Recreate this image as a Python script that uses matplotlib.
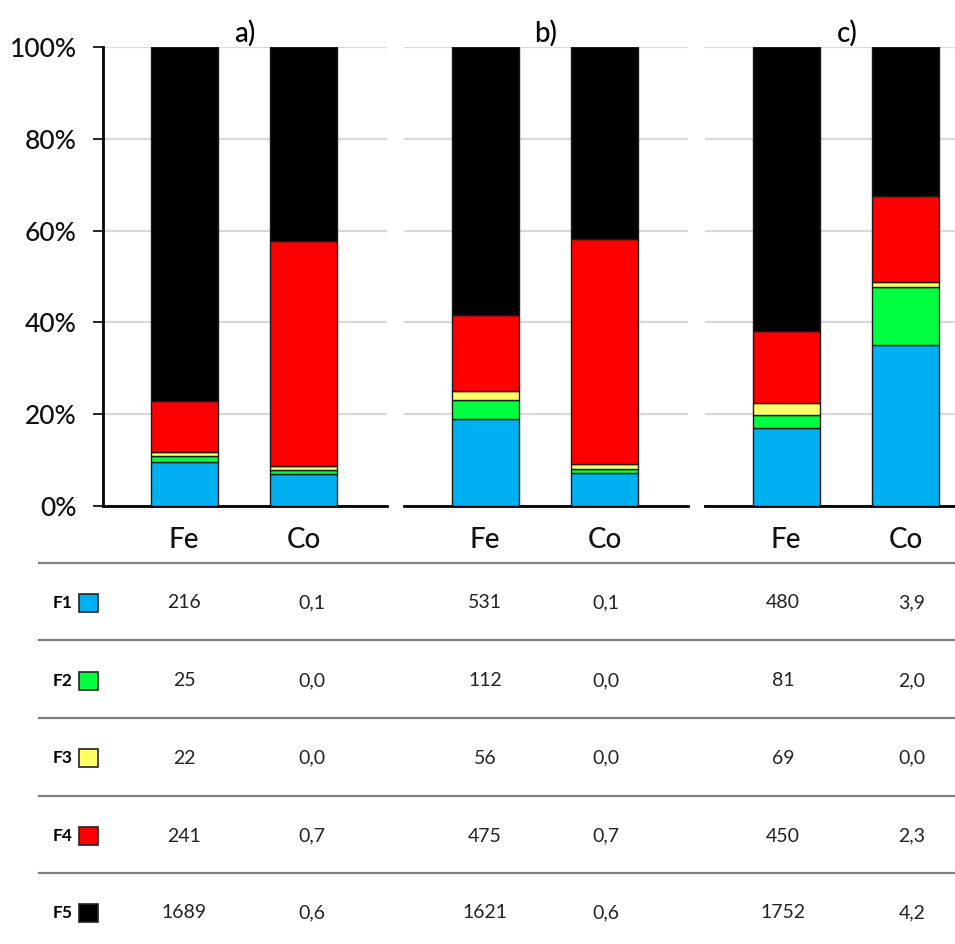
import numpy as np
import matplotlib
matplotlib.use('Agg')
import matplotlib.pyplot as plt

plt.rcParams['font.family'] = ['Lato', 'DejaVu Sans']

# Datos: porcentajes por fracción (F1..F5) para cada panel
fracciones = ['F1', 'F2', 'F3', 'F4', 'F5']
colores = ['#00b0f0', '#00ff40', '#ffff66', '#ff0000', '#000000']
elementos = ['Fe', 'Co']
paneles = ['a)', 'b)', 'c)']

pct_a_fe = [9.6, 1.2, 0.9, 11.1, 77.2]
pct_a_co = [6.9, 0.9, 1.0, 49.0, 42.2]
pct_b_fe = [19.0, 4.0, 2.1, 16.6, 58.3]
pct_b_co = [7.2, 0.8, 1.2, 48.9, 41.9]
pct_c_fe = [16.9, 2.9, 2.6, 15.7, 61.9]
pct_c_co = [35.1, 12.7, 1.0, 18.8, 32.4]

# Valores de la tabla (mismo orden F1..F5)
tabla_a_fe = ['216', '25', '22', '241', '1689']
tabla_a_co = ['0,1', '0,0', '0,0', '0,7', '0,6']
tabla_b_fe = ['531', '112', '56', '475', '1621']
tabla_b_co = ['0,1', '0,0', '0,0', '0,7', '0,6']
tabla_c_fe = ['480', '81', '69', '450', '1752']
tabla_c_co = ['3,9', '2,0', '0,0', '2,3', '4,2']

pcts = [(pct_a_fe, pct_a_co), (pct_b_fe, pct_b_co), (pct_c_fe, pct_c_co)]
tablas = [(tabla_a_fe, tabla_a_co), (tabla_b_fe, tabla_b_co), (tabla_c_fe, tabla_c_co)]

W, H = 955, 944
fig = plt.figure(figsize=(W / 100, H / 100), dpi=100)

# Paso 1: los tres gráficos de barras apiladas
izq = [103, 404, 705]
ancho = 284
arriba, abajo = 47, 506
xlim = (-0.68, 1.70)
x = np.arange(len(elementos))

for i, (pfe, pco) in enumerate(pcts):
    ax = fig.add_axes([izq[i] / W, 1 - abajo / H, ancho / W, (abajo - arriba) / H])
    datos = np.array([pfe, pco]).T  # filas: fracciones, columnas: elementos
    base = np.zeros(len(elementos))
    for j, fila in enumerate(datos):
        ax.bar(x, fila, 0.56, bottom=base, color=colores[j],
               edgecolor='#1a1a1a', linewidth=1.0, zorder=3)
        base += fila
    ax.set_xlim(*xlim)
    ax.set_ylim(0, 100)
    ax.set_yticks(np.arange(0, 101, 20))
    ax.yaxis.grid(True, color='#d9d9d9', linewidth=1.6, zorder=0)
    ax.set_xticks(x)
    ax.set_xticklabels(elementos, fontsize=20, fontweight='medium', color='#111111')
    ax.tick_params(axis='x', length=0, pad=15)
    ax.set_title(paneles[i], fontsize=20, fontweight='medium', pad=3)
    for lado in ['top', 'right']:
        ax.spines[lado].set_visible(False)
    ax.spines['bottom'].set_linewidth(2.0)
    if i == 0:
        ax.set_yticklabels(['%d%%' % v for v in range(0, 101, 20)], fontsize=19,
                           fontweight='medium', color='#111111')
        ax.tick_params(axis='y', length=7, width=1.2, pad=12)
        ax.spines['left'].set_linewidth(2.0)
    else:
        ax.spines['left'].set_visible(False)
        ax.tick_params(axis='y', length=0, labelleft=False)

# Paso 2: la tabla de valores debajo
tab = fig.add_axes([0, 0, 1, 1], zorder=-1)
tab.set_xlim(0, W)
tab.set_ylim(H, 0)
tab.axis('off')

lineas_y = [563, 640, 718, 796, 873]
filas_y = [603, 681, 758, 836, 913]
col_x = [184, 312, 485, 606, 783, 912]

for yl in lineas_y:
    tab.plot([39, W], [yl, yl], color='#7f7f7f', linewidth=1.6)

for j, f in enumerate(fracciones):
    yy = filas_y[j]
    tab.text(53, yy, f, fontsize=12.5, fontweight='bold', ha='left', va='center')
    tab.add_patch(plt.Rectangle((79, yy - 9), 19, 18, facecolor=colores[j],
                                edgecolor='#222222', linewidth=1.2))
    k = 0
    for tfe, tco in tablas:
        tab.text(col_x[k], yy, tfe[j], fontsize=14, ha='center', va='center', color='#222222')
        tab.text(col_x[k + 1], yy, tco[j], fontsize=14, ha='center', va='center', color='#222222')
        k += 2

plt.savefig('out.png', dpi=100)
